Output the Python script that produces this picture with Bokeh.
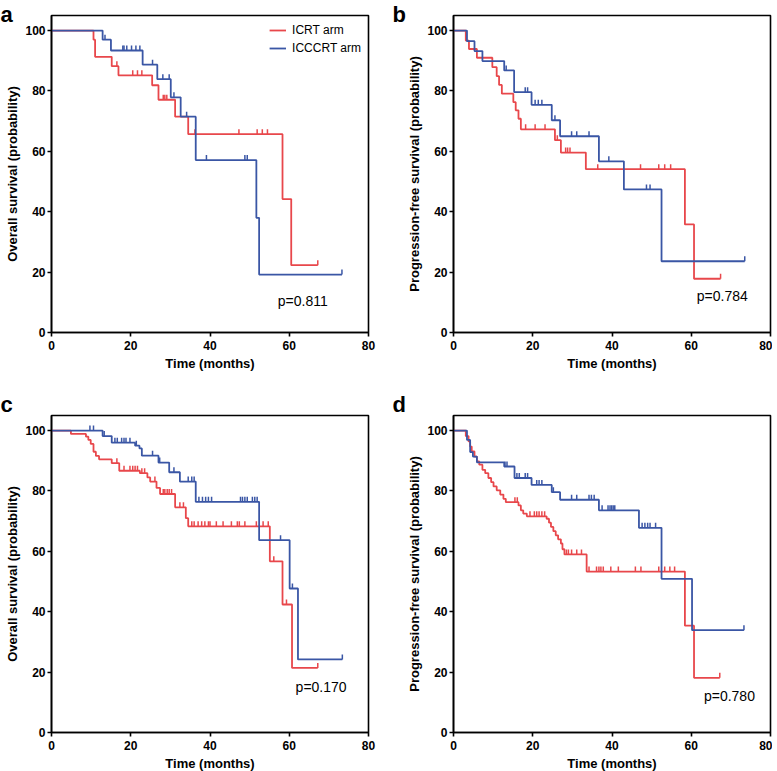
import numpy as np
from bokeh.plotting import figure
from bokeh.layouts import row, column
from bokeh.models import Range1d, Label, Legend, LegendItem, Title
from bokeh.embed import file_html
from bokeh.resources import INLINE

RED = "#e8474b"
BLUE = "#3a56a5"
FONT = "Liberation Sans"

x_ticks = [0, 20, 40, 60, 80]
y_ticks = [0, 20, 40, 60, 80, 100]
x_label = "Time (months)"
y_label_os = "Overall survival (probability)"
y_label_pfs = "Progression-free survival (probability)"
legend_labels = ["ICRT arm", "ICCCRT arm"]

# ---------------- panel a : overall survival ----------------
a_red_t = [0, 10.6, 11.0, 15.2, 16.9, 25.4, 27.0, 31.2, 34.5, 58.3, 60.5, 67.2]
a_red_s = [100, 97.0, 91.3, 88.2, 85.2, 81.9, 77.1, 71.5, 65.7, 44.2, 22.3, 22.3]
a_red_c = [16.5, 20.5, 21.7, 22.8, 28.2, 28.6, 29.1, 36.2, 47.3, 51.9, 53.2, 54.5, 67.2]
a_blue_t = [0, 12.9, 15.0, 23.0, 26.7, 30.1, 32.6, 36.4, 51.7, 52.4, 73.3]
a_blue_s = [100, 97.0, 93.4, 88.7, 83.9, 77.9, 71.5, 57.1, 38.0, 19.2, 19.2]
a_blue_c = [13.5, 18.0, 18.3, 19.0, 20.2, 21.3, 22.3, 25.5, 28.1, 29.7, 30.9, 34.1,
            39.1, 48.8, 49.4, 73.3]

# ---------------- panel b : progression-free survival ----------------
b_red_t = [0, 3.1, 3.9, 5.9, 9.8, 10.9, 11.5, 12.2, 15.1, 15.7, 16.4, 17.0, 25.6, 27.1,
           33.4, 58.4, 60.7, 67.4]
b_red_s = [100, 96.7, 93.9, 91.0, 87.9, 84.9, 82.0, 79.1, 76.3, 73.6, 70.8, 67.3, 63.7,
           59.6, 54.1, 35.8, 17.8, 17.8]
b_red_c = [18.2, 20.6, 23.1, 26.2, 28.3, 28.8, 29.4, 36.4, 47.2, 51.8, 53.3, 54.8, 67.4]
b_blue_t = [0, 3.4, 5.3, 7.3, 12.8, 15.3, 19.7, 24.8, 26.9, 36.7, 43.0, 52.5, 73.5]
b_blue_s = [100, 96.5, 93.2, 89.9, 86.8, 79.6, 75.4, 70.3, 65.0, 56.7, 47.4, 23.6, 23.6]
b_blue_c = [13.3, 18.1, 18.7, 20.6, 21.4, 22.3, 25.6, 29.8, 31.1, 34.2, 39.2, 48.7, 49.6, 73.5]

# ---------------- panel c : overall survival ----------------
c_red_t = [0, 4.9, 8.7, 9.3, 9.9, 10.6, 11.2, 12.0, 15.2, 17.1, 22.3, 24.2, 24.9, 26.5,
           27.4, 31.2, 33.9, 34.5, 55.1, 58.3, 60.7, 67.2]
c_red_s = [100, 98.9, 98.0, 96.9, 95.6, 93.0, 91.6, 90.5, 89.2, 86.7, 85.9, 84.5, 83.1,
           81.0, 79.0, 74.6, 71.0, 68.3, 56.7, 42.4, 21.4, 21.4]
c_red_c = [16.5, 18.3, 19.8, 20.5, 21.1, 21.7, 22.8, 23.5, 26.1, 28.2, 28.6, 29.2, 29.7,
           30.3, 32.4, 33.3, 35.4, 36.0, 37.0, 37.9, 38.7, 39.6, 40.0, 41.6, 43.3, 45.4,
           46.9, 47.4, 48.8, 51.7, 53.4, 54.7, 56.1, 59.3, 67.2]
c_blue_t = [0, 12.9, 15.2, 21.1, 22.2, 22.8, 27.0, 29.7, 32.4, 36.4, 52.4, 60.1, 62.2, 73.4]
c_blue_s = [100, 98.2, 96.0, 95.0, 94.1, 91.7, 89.4, 86.2, 83.1, 76.4, 63.7, 47.7, 24.2, 24.2]
c_blue_c = [9.7, 10.6, 13.3, 16.0, 16.6, 17.7, 18.3, 18.8, 19.8, 21.4, 25.5, 27.3, 30.9,
            34.5, 35.4, 36.0, 37.2, 38.1, 38.9, 39.6, 40.4, 47.7, 48.2, 48.8, 49.4, 50.7,
            51.3, 51.9, 57.8, 60.8, 73.4]

# ---------------- panel d : progression-free survival ----------------
d_red_t = [0, 3.1, 3.8, 4.2, 4.6, 5.3, 5.9, 6.5, 7.3, 8.0, 8.8, 9.5, 10.1, 10.9, 11.8,
           12.6, 13.2, 16.4, 17.0, 17.6, 18.5, 23.5, 24.1, 24.6, 25.2, 25.8, 26.4, 27.1,
           27.5, 28.0, 33.6, 58.4, 60.7, 67.2]
d_red_s = [100, 98.2, 96.4, 94.7, 93.1, 91.4, 89.8, 88.7, 87.0, 85.9, 84.3, 82.9, 81.5,
           80.2, 78.8, 77.4, 76.3, 75.2, 73.6, 72.5, 71.6, 70.8, 69.5, 68.1, 66.7, 65.3,
           64.0, 62.6, 60.7, 59.0, 53.3, 35.4, 18.1, 18.1]
d_red_c = [15.5, 16.1, 19.3, 20.4, 21.0, 21.6, 22.3, 23.0, 28.5, 29.0, 29.8, 31.1, 32.3,
           34.2, 36.1, 36.7, 37.2, 37.8, 39.7, 41.6, 45.9, 47.3, 51.8, 53.3, 54.6, 55.8, 67.2]
d_blue_t = [0, 3.4, 4.2, 4.9, 5.9, 12.8, 15.4, 19.7, 24.8, 26.9, 36.7, 46.8, 52.5, 60.2, 73.3]
d_blue_s = [100, 96.9, 92.9, 91.4, 89.5, 88.1, 84.3, 82.0, 79.6, 77.1, 73.6, 67.8, 50.9,
            33.9, 33.9]
d_blue_c = [13.0, 13.5, 16.0, 16.6, 18.1, 18.7, 21.0, 21.6, 22.3, 25.2, 29.8, 31.1, 34.2,
            34.8, 35.5, 37.5, 39.0, 39.5, 39.9, 40.3, 40.7, 47.6, 48.3, 49.0, 49.6, 51.0, 73.3]

p_values = ["p=0.811", "p=0.784", "p=0.170", "p=0.780"]
panel_letters = ["a", "b", "c", "d"]


def surv_at(times, surv, cens):
    t = np.asarray(times)
    s = np.asarray(surv)
    idx = np.searchsorted(t, np.asarray(cens), side="right") - 1
    return s[idx]


def style_axes(p):
    for ax in (p.xaxis[0], p.yaxis[0]):
        ax.axis_line_width = 1.6
        ax.axis_line_color = "black"
        ax.major_tick_line_width = 1.6
        ax.major_tick_line_color = "black"
        ax.major_tick_out = 4
        ax.major_tick_in = 0
        ax.minor_tick_out = 0
        ax.minor_tick_in = 0
        ax.major_label_text_font = FONT
        ax.major_label_text_font_style = "bold"
        ax.major_label_text_font_size = "12px"
        ax.major_label_text_color = "black"
        ax.axis_label_text_font = FONT
        ax.axis_label_text_font_style = "bold"
        ax.axis_label_text_font_size = "13px"
        ax.axis_label_text_color = "black"
    p.yaxis[0].major_label_standoff = 2
    p.yaxis[0].axis_label_standoff = 2
    p.xaxis[0].major_label_standoff = 4
    p.xaxis[0].axis_label_standoff = 3


def make_panel(letter, ylabel, red, blue, ptext, ppos, left, right, top, bottom,
               letter_offset, letter_standoff, with_legend=False):
    p = figure(frame_width=317, frame_height=317,
               min_border_left=left, min_border_right=right,
               min_border_top=top, min_border_bottom=bottom,
               x_range=Range1d(0, 80), y_range=Range1d(0, 105),
               output_backend="svg", toolbar_location=None,
               x_axis_label=x_label, y_axis_label=ylabel)
    p.xaxis.ticker = x_ticks
    p.yaxis.ticker = y_ticks
    p.xgrid.visible = False
    p.ygrid.visible = False
    p.outline_line_color = "black"
    p.outline_line_width = 1.6
    p.outline_line_alpha = 1.0
    p.background_fill_color = "white"
    p.border_fill_color = "white"
    style_axes(p)

    renderers = []
    for (t, s, c), col in ((red, RED), (blue, BLUE)):
        sr = p.step(x=t, y=s, mode="after", line_color=col, line_width=1.8)
        cy = surv_at(t, s, c)
        p.ray(x=c, y=cy, length=5, length_units="screen", angle=np.pi / 2,
              line_color=col, line_width=1.5)
        mk = p.scatter(x=[], y=[], marker="dash", angle=np.pi / 2, size=8,
                       line_color=col, line_width=1.5)
        renderers.append((sr, mk))

    if with_legend:
        items = [LegendItem(label=legend_labels[i], renderers=list(renderers[i]))
                 for i in range(2)]
        lg = Legend(items=items, location="top_right")
        lg.border_line_color = None
        lg.background_fill_alpha = 0
        lg.padding = 0
        lg.margin = 7
        lg.spacing = 2
        lg.glyph_width = 17
        lg.glyph_height = 16
        lg.label_height = 16
        lg.label_standoff = 6
        lg.label_text_font = FONT
        lg.label_text_font_size = "12px"
        lg.label_text_color = "black"
        p.add_layout(lg)

    p.add_layout(Label(x=ppos[0], y=ppos[1], text=ptext, text_baseline="middle",
                       text_font=FONT, text_font_size="14px", text_color="black"))
    # panel letter as a left-aligned title in the top border
    t = Title(text=letter, align="left", offset=letter_offset, standoff=letter_standoff,
              text_font=FONT, text_font_style="bold", text_font_size="22px",
              text_color="black")
    p.add_layout(t, "above")
    return p


pa = make_panel(panel_letters[0], y_label_os, (a_red_t, a_red_s, a_red_c),
                (a_blue_t, a_blue_s, a_blue_c), p_values[0], (57.1, 10.3),
                51, 10, 15, 55, -51, -22, with_legend=True)
pb = make_panel(panel_letters[1], y_label_pfs, (b_red_t, b_red_s, b_red_c),
                (b_blue_t, b_blue_s, b_blue_c), p_values[1], (61.4, 12.2),
                75, 2, 15, 55, -61, -22)
pc = make_panel(panel_letters[2], y_label_os, (c_red_t, c_red_s, c_red_c),
                (c_blue_t, c_blue_s, c_blue_c), p_values[2], (61.6, 15.2),
                51, 10, 28, 38, -51, -2)
pd_ = make_panel(panel_letters[3], y_label_pfs, (d_red_t, d_red_s, d_red_c),
                 (d_blue_t, d_blue_s, d_blue_c), p_values[3], (63.2, 12.0),
                 75, 2, 28, 38, -61, -2)

layout = column(row(pa, pb), row(pc, pd_))
open("out.html", "w").write(file_html(layout, INLINE))
